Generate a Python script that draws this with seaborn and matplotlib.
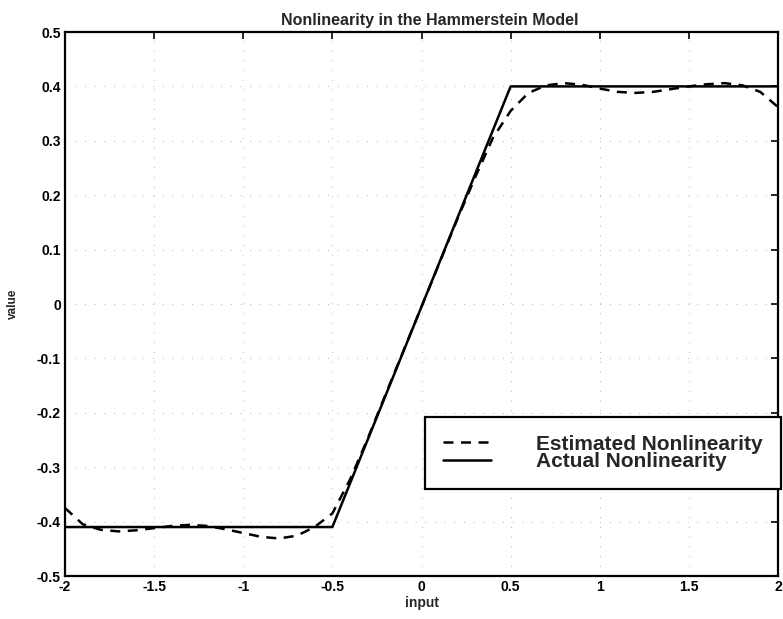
import matplotlib
matplotlib.use("Agg")
import matplotlib.pyplot as plt
import seaborn as sns
import pandas as pd

# Data
est_x = [-2.0, -1.9, -1.8, -1.7, -1.6, -1.5, -1.4, -1.3, -1.2, -1.1, -1.0,
         -0.9, -0.8, -0.7, -0.6, -0.5, -0.4, -0.3, -0.2, -0.1, 0.0,
         0.1, 0.2, 0.3, 0.4, 0.5, 0.6, 0.7, 0.8, 0.9, 1.0,
         1.1, 1.2, 1.3, 1.4, 1.5, 1.6, 1.7, 1.8, 1.9, 2.0]
est_y = [-0.375, -0.405, -0.415, -0.418, -0.416, -0.412, -0.408, -0.406, -0.408, -0.414, -0.421,
         -0.428, -0.431, -0.426, -0.410, -0.385, -0.322, -0.246, -0.165, -0.085, -0.005,
         0.075, 0.155, 0.232, 0.305, 0.355, 0.388, 0.402, 0.406, 0.403, 0.396,
         0.390, 0.388, 0.390, 0.395, 0.400, 0.404, 0.406, 0.402, 0.390, 0.362]
act_x = [-2.0, -0.5, 0.5, 2.0]
act_y = [-0.41, -0.41, 0.40, 0.40]

x_ticks = [-2, -1.5, -1, -0.5, 0, 0.5, 1, 1.5, 2]
x_tick_labels = ["-2", "-1.5", "-1", "-0.5", "0", "0.5", "1", "1.5", "2"]
y_ticks = [-0.5, -0.4, -0.3, -0.2, -0.1, 0, 0.1, 0.2, 0.3, 0.4, 0.5]
y_tick_labels = ["-0.5", "-0.4", "-0.3", "-0.2", "-0.1", "0", "0.1", "0.2", "0.3", "0.4", "0.5"]

title = "Nonlinearity in the Hammerstein Model"
xlabel = "input"
ylabel = "value"
labels = ["Estimated Nonlinearity", "Actual Nonlinearity"]

sns.set_theme(style="white")
plt.rcParams["font.family"] = ["Liberation Sans", "DejaVu Sans"]
plt.rcParams["font.weight"] = "bold"

fig = plt.figure(figsize=(7.83, 6.19), dpi=100)
ax = fig.add_axes([65 / 783, 1 - 576 / 619, 713 / 783, 544 / 619])

est_df = pd.DataFrame({"x": est_x, "y": est_y})
act_df = pd.DataFrame({"x": act_x, "y": act_y})

sns.lineplot(data=est_df, x="x", y="y", ax=ax, color="black", linewidth=1.8,
             label=labels[0], sort=False)
ax.lines[-1].set_dashes((4, 3.0))
sns.lineplot(data=act_df, x="x", y="y", ax=ax, color="black", linewidth=1.8,
             label=labels[1], sort=False)

ax.set_xlim(-2, 2)
ax.set_ylim(-0.5, 0.5)
ax.set_xticks(x_ticks)
ax.set_xticklabels(x_tick_labels)
ax.set_yticks(y_ticks)
ax.set_yticklabels(y_tick_labels)

ax.grid(True, color="0.7", linestyle=(0, (1, 9)), linewidth=0.7)
for s in ax.spines.values():
    s.set_color("black")
    s.set_linewidth(1.6)
ax.tick_params(direction="in", length=5, width=1.2, top=True, right=True,
               labelsize=10, colors="black", pad=3)
for lab in ax.get_xticklabels() + ax.get_yticklabels():
    lab.set_fontweight("bold")

ax.set_title(title, fontsize=11.5, fontweight="bold", pad=5, x=0.512)
ax.set_xlabel(xlabel, fontsize=10, fontweight="bold", labelpad=1)
ax.set_ylabel(ylabel, fontsize=8.5, fontweight="bold", labelpad=13)

leg = ax.legend(loc="upper left", bbox_to_anchor=((425 - 65) / 713, (576 - 417) / 544),
                borderaxespad=0, fontsize=15, handlelength=2.3, handletextpad=2.2,
                labelspacing=-0.08, borderpad=0.85, frameon=True, fancybox=False)
leg.get_frame().set_edgecolor("black")
leg.get_frame().set_linewidth(1.6)
leg.get_frame().set_alpha(1)
for t in leg.get_texts():
    t.set_fontweight("bold")

fig.savefig("out.png", dpi=100)
